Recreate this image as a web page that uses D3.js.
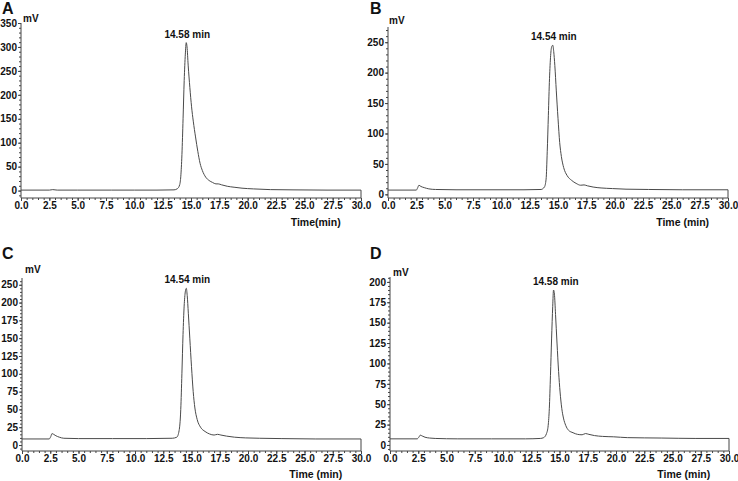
<!DOCTYPE html>
<html>
<head>
<meta charset="utf-8">
<script src="https://cdn.jsdelivr.net/npm/d3@7"></script>
<style>
  html, body { margin: 0; padding: 0; background: #fff; }
  svg text { font-family: "Liberation Sans", Arial, sans-serif; font-weight: bold; fill: #111; }
</style>
</head>
<body>
<svg id="chart" width="738" height="481"></svg>
<script>
// ---------------- DATA ----------------
const panelNames = ["A", "B", "C", "D"];
const peakLabels = ["14.58 min", "14.54 min", "14.54 min", "14.58 min"];
const peakTimes = [14.58, 14.54, 14.54, 14.58];
const timeTitles = ["Time(min)", "Time (min)", "Time (min)", "Time (min)"];

const xTickValues = [0, 2.5, 5, 7.5, 10, 12.5, 15, 17.5, 20, 22.5, 25, 27.5, 30];
const xTickLabels = ["0.0", "2.5", "5.0", "7.5", "10.0", "12.5", "15.0", "17.5", "20.0", "22.5", "25.0", "27.5", "30.0"];

const yTickValuesA = [0, 50, 100, 150, 200, 250, 300, 350];
const yTickLabelsA = ["0", "50", "100", "150", "200", "250", "300", "350"];
const yTickValuesB = [0, 50, 100, 150, 200, 250];
const yTickLabelsB = ["0", "50", "100", "150", "200", "250"];
const yTickValuesC = [0, 25, 50, 75, 100, 125, 150, 175, 200, 225];
const yTickLabelsC = ["0", "25", "50", "75", "100", "125", "150", "175", "200", "250"];
const yTickValuesD = [0, 25, 50, 75, 100, 125, 150, 175, 200];
const yTickLabelsD = ["0", "25", "50", "75", "100", "125", "150", "175", "200"];

const timeA = [0, 2.5, 2.8, 3.2, 5, 8, 10, 12, 13.5, 13.8, 14.0, 14.1, 14.2, 14.3, 14.4, 14.5, 14.58, 14.65, 14.75, 14.9, 15.05, 15.2, 15.4, 15.6, 15.8, 16.0, 16.3, 16.6, 16.9, 17.2, 17.4, 17.7, 18.2, 18.8, 19.5, 20.5, 22, 24, 27, 30];
const mvA   = [1, 1, 2, 1, 1, 1, 1, 1, 1.5, 4, 12, 30, 75, 150, 230, 285, 309, 300, 262, 215, 175, 145, 112, 82, 57, 42, 28, 21, 17, 14, 14, 12, 9, 7, 5, 3.5, 2, 1.5, 1, 1];

const timeB = [0, 2.5, 2.6, 2.73, 2.9, 3.2, 3.6, 4.2, 6, 9, 12, 13.5, 13.8, 13.95, 14.05, 14.15, 14.25, 14.35, 14.45, 14.54, 14.62, 14.72, 14.85, 15.0, 15.15, 15.3, 15.5, 15.8, 16.2, 16.6, 17.0, 17.3, 17.6, 18.1, 18.8, 19.8, 21, 23, 26, 30];
const mvB   = [7, 7, 10, 15, 13, 11, 9, 8, 7.5, 7.5, 7.5, 8, 12, 25, 70, 130, 190, 228, 243, 245, 235, 212, 170, 125, 85, 62, 44, 31, 23, 18, 15, 15.5, 14, 12, 10.5, 9.5, 8.5, 8, 7.5, 7.5];

const timeC = [0, 2.4, 2.55, 2.65, 2.8, 3.0, 3.3, 3.7, 5, 8, 11, 13.3, 13.7, 13.9, 14.05, 14.15, 14.25, 14.35, 14.45, 14.54, 14.62, 14.72, 14.85, 15.0, 15.15, 15.3, 15.5, 15.8, 16.2, 16.6, 17.0, 17.3, 17.6, 18.1, 18.8, 19.8, 21, 23, 26, 30];
const mvC   = [8.5, 8.5, 12, 16, 15, 13, 11, 9.5, 9, 9, 9, 9.5, 11, 20, 50, 100, 155, 195, 215, 220, 210, 185, 150, 110, 75, 52, 36, 25, 19, 15.5, 14, 15, 14, 12.5, 11, 10, 9.5, 9, 8.5, 8.5];

const timeD = [0, 2.4, 2.55, 2.68, 2.85, 3.1, 3.5, 4, 6, 9, 12, 13.3, 13.6, 13.85, 14.0, 14.1, 14.2, 14.3, 14.4, 14.47, 14.55, 14.65, 14.78, 14.92, 15.05, 15.2, 15.35, 15.55, 15.8, 16.2, 16.6, 17.0, 17.3, 17.6, 18.1, 18.8, 19.8, 21, 24, 27, 30];
const mvD   = [7.5, 7.5, 9.5, 12, 11, 9.5, 8.5, 8, 7.5, 7.5, 7.5, 8, 9, 14, 24, 45, 85, 130, 170, 190, 185, 160, 125, 90, 65, 45, 33, 24, 18, 15, 13, 12.5, 14, 13, 11.5, 10.5, 10, 9, 8.5, 8, 8];

// ---------------- LAYOUT ----------------
const layouts = [
  { xr: [21, 361],  yr: [198, 23],  yd: [-15.5, 350], minorY: 10, times: timeA, mv: mvA, ytv: yTickValuesA, ytl: yTickLabelsA,
    letter: [2, 14], mvPos: [23, 22], titleY: 226 },
  { xr: [388, 728], yr: [198, 27],  yd: [-6, 275],    minorY: 10, times: timeB, mv: mvB, ytv: yTickValuesB, ytl: yTickLabelsB,
    letter: [370, 14], mvPos: [389, 24], titleY: 226 },
  { xr: [22, 361],  yr: [451, 278], yd: [-8.4, 234.5], minorY: 5, times: timeC, mv: mvC, ytv: yTickValuesC, ytl: yTickLabelsC,
    letter: [2, 259], mvPos: [25, 273], titleY: 478 },
  { xr: [390, 729], yr: [451, 277], yd: [-7.4, 206],  minorY: 5, times: timeD, mv: mvD, ytv: yTickValuesD, ytl: yTickLabelsD,
    letter: [370, 259], mvPos: [393, 276], titleY: 478 }
];

const svg = d3.select("#chart");
const axisColor = "#444";
const tickFont = "10px";

layouts.forEach((L, i) => {
  const g = svg.append("g");
  const x = d3.scaleLinear().domain([0, 30]).range(L.xr);
  const y = d3.scaleLinear().domain(L.yd).range(L.yr);
  const yBase = L.yr[0];

  // minor x ticks
  const minorX = d3.range(0, 30.01, 0.5);
  g.append("g").attr("transform", `translate(0,${yBase})`)
    .call(d3.axisBottom(x).tickValues(minorX).tickSize(2).tickFormat(""))
    .call(a => a.select(".domain").remove())
    .call(a => a.selectAll("line").attr("stroke", axisColor));

  // major x axis
  const xAxis = g.append("g").attr("transform", `translate(0,${yBase})`)
    .call(d3.axisBottom(x).tickValues(xTickValues).tickSize(3).tickPadding(1)
      .tickFormat((d, k) => xTickLabels[k]));
  xAxis.select(".domain").attr("stroke", axisColor).attr("d", `M${L.xr[0]},0H${L.xr[1]}`);
  xAxis.selectAll("line").attr("stroke", axisColor);
  xAxis.selectAll("text").style("font-size", tickFont).attr("fill", "#111");

  // minor y ticks
  const minorYv = d3.range(Math.ceil(L.yd[0] / L.minorY) * L.minorY, L.yd[1] + 0.01, L.minorY);
  g.append("g").attr("transform", `translate(${L.xr[0]},0)`)
    .call(d3.axisLeft(y).tickValues(minorYv).tickSize(2).tickFormat(""))
    .call(a => a.select(".domain").remove())
    .call(a => a.selectAll("line").attr("stroke", axisColor));

  // major y axis
  const yAxis = g.append("g").attr("transform", `translate(${L.xr[0]},0)`)
    .call(d3.axisLeft(y).tickValues(L.ytv).tickSize(3).tickPadding(1)
      .tickFormat((d, k) => L.ytl[k]));
  yAxis.select(".domain").attr("stroke", axisColor).attr("d", `M0,${L.yr[0]}V${L.yr[1]}`);
  yAxis.selectAll("line").attr("stroke", axisColor);
  yAxis.selectAll("text").style("font-size", tickFont).attr("fill", "#111");

  // right end mark
  g.append("line").attr("x1", x(30)).attr("x2", x(30))
    .attr("y1", yBase).attr("y2", y(L.mv[L.mv.length - 1]))
    .attr("stroke", axisColor).attr("stroke-width", 1);

  // trace
  const pts = L.times.map((t, k) => [t, L.mv[k]]);
  g.append("path").datum(pts)
    .attr("fill", "none").attr("stroke", "#4a4a4a").attr("stroke-width", 1)
    .attr("d", d3.line().x(d => x(d[0])).y(d => y(d[1])).curve(d3.curveMonotoneX));

  // peak label
  const pk = d3.max(L.mv);
  g.append("text").attr("x", x(peakTimes[i]) + 1).attr("y", y(pk) - 5)
    .attr("text-anchor", "middle").style("font-size", "10px").text(peakLabels[i]);

  // x title
  g.append("text").attr("x", x(26)).attr("y", L.titleY)
    .attr("text-anchor", "middle").style("font-size", "10.5px").text(timeTitles[i]);

  // mV
  g.append("text").attr("x", L.mvPos[0]).attr("y", L.mvPos[1])
    .style("font-size", "10px").text("mV");

  // panel letter
  g.append("text").attr("x", L.letter[0]).attr("y", L.letter[1])
    .style("font-size", "16px").text(panelNames[i]);
});
</script>
</body>
</html>
